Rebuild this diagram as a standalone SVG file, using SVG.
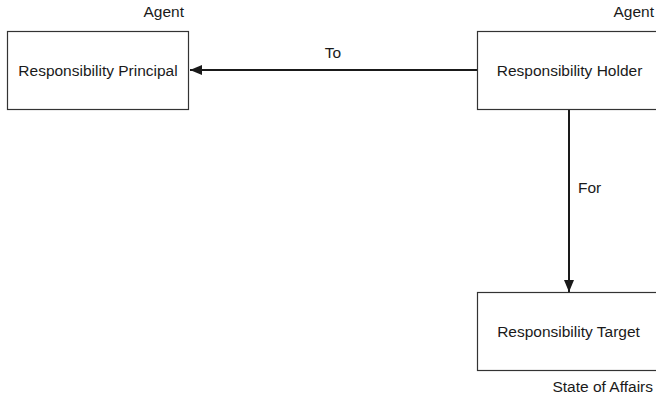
<svg xmlns="http://www.w3.org/2000/svg" width="656" height="402" viewBox="0 0 656 402">
  <style>
    .box { fill: #ffffff; stroke: #333333; stroke-width: 1.2; }
    .lbl { font-family: "Liberation Sans", Arial, sans-serif; font-size: 15.5px; fill: #1a1a1a; }
    .edge { stroke: #1a1a1a; stroke-width: 2; fill: none; }
  </style>
  <defs>
    <marker id="arrow" markerWidth="12" markerHeight="10" refX="12" refY="5" orient="auto" markerUnits="userSpaceOnUse">
      <path d="M0,0 L12,5 L0,10 Z" fill="#1a1a1a"/>
    </marker>
  </defs>
  <rect width="656" height="402" fill="#ffffff"/>

  <g id="connectors">
    <line class="edge" x1="477" y1="70" x2="190" y2="70" marker-end="url(#arrow)"/>
    <text class="lbl" x="333" y="58" text-anchor="middle">To</text>
    <line class="edge" x1="569" y1="109" x2="569" y2="292" marker-end="url(#arrow)"/>
    <text class="lbl" x="578" y="193">For</text>
  </g>

  <g id="principal">
    <rect class="box" x="7.5" y="31.5" width="181" height="78"/>
    <text class="lbl" x="98" y="76" text-anchor="middle">Responsibility Principal</text>
    <text class="lbl" x="184" y="17" text-anchor="end">Agent</text>
  </g>

  <g id="holder">
    <rect class="box" x="477.5" y="31.5" width="190" height="78"/>
    <text class="lbl" x="569.5" y="76" text-anchor="middle">Responsibility Holder</text>
    <text class="lbl" x="654" y="17" text-anchor="end">Agent</text>
  </g>

  <g id="target">
    <rect class="box" x="477.5" y="292.5" width="190" height="78"/>
    <text class="lbl" x="568.5" y="337" text-anchor="middle">Responsibility Target</text>
    <text class="lbl" x="653" y="392" text-anchor="end">State of Affairs</text>
  </g>
</svg>
